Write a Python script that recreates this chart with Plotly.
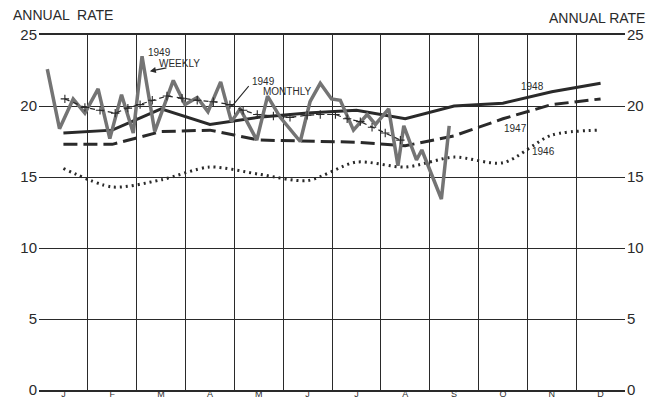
import plotly.graph_objects as go

# ---- data ----
months = ["J", "F", "M", "A", "M", "J", "J", "A", "S", "O", "N", "D"]
month_pos = [i + 0.5 for i in range(12)]          # mid-month positions on the month axis

rate_1948 = [18.1, 18.3, 19.8, 18.7, 19.2, 19.5, 19.7, 19.1, 20.0, 20.2, 21.0, 21.6]
rate_1947 = [17.3, 17.3, 18.2, 18.3, 17.6, 17.55, 17.45, 17.2, 17.9, 19.1, 20.1, 20.5]
rate_1946 = [15.6, 14.3, 14.8, 15.7, 15.2, 14.75, 16.05, 15.7, 16.4, 16.0, 17.95, 18.3]

# 1949 weekly (position in months from Jan 1, value)
weekly_1949_pos = [0.17, 0.42, 0.70, 0.94, 1.21, 1.45, 1.69, 1.93, 2.11, 2.37, 2.75, 2.99,
                   3.24, 3.46, 3.72, 3.94, 4.12, 4.46, 4.68, 4.94, 5.35, 5.55, 5.76, 5.99,
                   6.17, 6.44, 6.72, 6.89, 7.16, 7.35, 7.47, 7.73, 7.84, 8.24, 8.40]
weekly_1949_val = [22.6, 18.4, 20.5, 19.5, 21.2, 17.7, 20.8, 18.1, 23.5, 18.2, 21.8, 20.1,
                   20.6, 19.6, 21.7, 18.9, 19.8, 17.6, 20.7, 19.2, 17.5, 20.3, 21.6, 20.5,
                   20.4, 18.3, 19.4, 18.7, 19.8, 15.8, 18.6, 16.2, 16.9, 13.45, 18.6]

# 1949 monthly line, read at its "+" marks
monthly_1949_pos = [0.53, 0.94, 1.25, 1.56, 1.82, 2.07, 2.32, 2.62, 2.93, 3.24, 3.57, 3.91,
                    4.18, 4.47, 4.80, 5.14, 5.49, 5.76, 6.07, 6.31, 6.58, 6.82, 7.09, 7.40]
monthly_1949_val = [20.5, 19.9, 19.7, 19.5, 19.85, 20.1, 20.4, 20.7, 20.55, 20.4, 20.3, 20.1,
                    19.7, 19.4, 19.3, 19.2, 19.35, 19.4, 19.4, 19.1, 18.9, 18.5, 18.1, 17.6]

y_ticks = [0, 5, 10, 15, 20, 25]

FONT = "Liberation Sans"
INK = "#2a2a2a"

fig = go.Figure()

fig.add_trace(go.Scatter(x=month_pos, y=rate_1946, mode="lines",
                         line=dict(color=INK, width=3, dash="2px,4px", shape="spline", smoothing=0.8),
                         name="1946"))
fig.add_trace(go.Scatter(x=month_pos, y=rate_1947, mode="lines",
                         line=dict(color=INK, width=3, dash="14px,6px"), name="1947"))
fig.add_trace(go.Scatter(x=month_pos, y=rate_1948, mode="lines",
                         line=dict(color=INK, width=3), name="1948"))
fig.add_trace(go.Scatter(x=weekly_1949_pos, y=weekly_1949_val, mode="lines",
                         line=dict(color="#747474", width=3.5), name="1949 weekly"))
fig.add_trace(go.Scatter(x=monthly_1949_pos, y=monthly_1949_val, mode="lines+markers",
                         line=dict(color=INK, width=1.2, dash="5px,4px"),
                         marker=dict(symbol="cross-thin", size=6,
                                     line=dict(color=INK, width=1.1)),
                         name="1949 monthly"))
# invisible trace to activate the right axis
fig.add_trace(go.Scatter(x=month_pos, y=rate_1948, yaxis="y2", mode="lines",
                         line=dict(width=0), opacity=0, hoverinfo="skip", showlegend=False))

axis_font = dict(family=FONT, size=15, color=INK)

fig.update_layout(
    width=649, height=400,
    margin=dict(l=39, r=24, t=35, b=10),
    paper_bgcolor="white", plot_bgcolor="white",
    showlegend=False,
    xaxis=dict(range=[0, 12], tickmode="array", tickvals=month_pos, ticktext=months,
               showgrid=False, ticks="", zeroline=False, automargin=False,
               showline=True, linecolor=INK, linewidth=2, mirror=True,
               tickfont=dict(family=FONT, size=9, color=INK), ticklabelstandoff=-6,
               minor=dict(tickmode="linear", tick0=0, dtick=1, showgrid=True,
                          gridcolor=INK, gridwidth=1.4, ticks="")),
    yaxis=dict(range=[0, 25], tickmode="array", tickvals=y_ticks, automargin=False,
               showgrid=True, gridcolor=INK, gridwidth=1.4, zeroline=False,
               ticks="", tickfont=axis_font, ticklabelstandoff=1),
    yaxis2=dict(range=[0, 25], tickmode="array", tickvals=y_ticks, overlaying="y",
                side="right", showgrid=False, zeroline=False, ticks="", automargin=False,
                tickfont=axis_font, ticklabelstandoff=1),
)

ann_font = dict(family=FONT, size=10, color=INK)
fig.add_annotation(text="ANNUAL  RATE", xref="paper", yref="paper", x=-0.048, y=1.028,
                   xanchor="left", yanchor="bottom", showarrow=False,
                   font=dict(family=FONT, size=14, color=INK))
fig.add_annotation(text="ANNUAL RATE", xref="paper", yref="paper", x=1.038, y=1.02,
                   xanchor="right", yanchor="bottom", showarrow=False,
                   font=dict(family=FONT, size=14, color=INK))

fig.add_annotation(text="1949", x=2.2, y=23.8, xanchor="left", showarrow=False, font=ann_font)
fig.add_annotation(text="WEEKLY", x=2.42, y=23.0, xanchor="left", showarrow=False, font=ann_font)
fig.add_annotation(text="", x=2.27, y=22.45, ax=2.64, ay=22.7, axref="x", ayref="y",
                   showarrow=True, arrowhead=2, arrowsize=1, arrowwidth=1.2, arrowcolor=INK)

fig.add_annotation(text="1949", x=4.32, y=21.76, xanchor="left", showarrow=False, font=ann_font)
fig.add_annotation(text="MONTHLY", x=4.55, y=20.99, xanchor="left", showarrow=False, font=ann_font)
fig.add_annotation(text="", x=3.98, y=20.1, ax=4.32, ay=21.5, axref="x", ayref="y",
                   showarrow=True, arrowhead=0, arrowwidth=1.1, arrowcolor=INK)

fig.add_annotation(text="1948", x=9.82, y=21.34, xanchor="left", showarrow=False, font=ann_font)
fig.add_annotation(text="1947", x=9.49, y=18.45, xanchor="left", showarrow=False, font=ann_font)
fig.add_annotation(text="1946", x=10.06, y=16.83, xanchor="left", showarrow=False, font=ann_font)

# remove the page's default body margin so the 649x400 figure fills the window exactly
fig.write_html("out.html", config={"displayModeBar": False},
               post_script="document.body.style.margin='0';document.body.style.overflow='hidden';")
